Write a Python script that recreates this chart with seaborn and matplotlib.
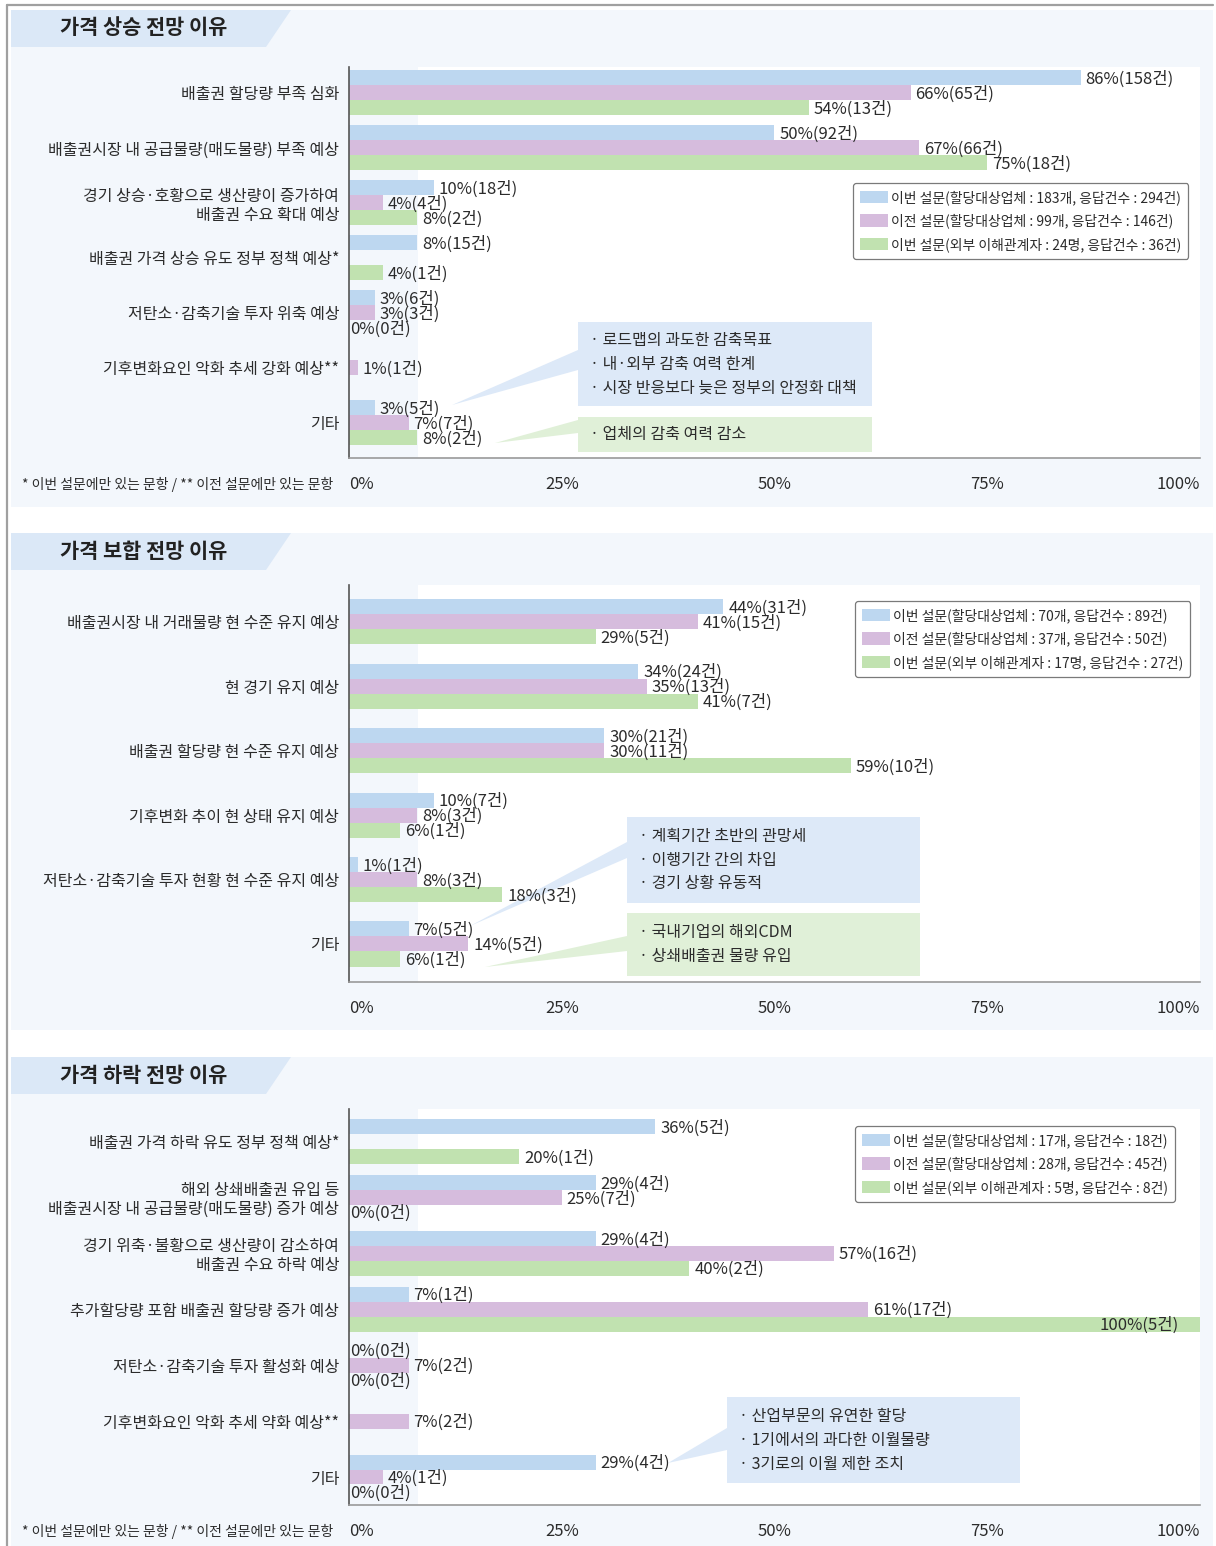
import matplotlib
matplotlib.use("Agg")
import matplotlib.pyplot as plt
from matplotlib.patches import Rectangle, Polygon, Patch
import pandas as pd
import seaborn as sns

W, H = 1216, 1546

SERIES = ["cur_firm", "prev_firm", "cur_ext"]
COLORS = ["#bdd7f0", "#d6bcdd", "#c1e2b0"]
PANEL_BG = "#f3f7fc"
HEADER_BG = "#dbe8f7"
CALLOUT_BLUE = "#dde9f8"
CALLOUT_GREEN = "#e0f0d8"
TEXT = "#2b2b2b"

# ---- 가격 상승 전망 이유 ----
up_reasons = [
    "배출권 할당량 부족 심화",
    "배출권시장 내 공급물량(매도물량) 부족 예상",
    "경기 상승·호황으로 생산량이 증가하여\n배출권 수요 확대 예상",
    "배출권 가격 상승 유도 정부 정책 예상*",
    "저탄소·감축기술 투자 위축 예상",
    "기후변화요인 악화 추세 강화 예상**",
    "기타",
]
up_cur = [86, 50, 10, 8, 3, None, 3]
up_cur_n = [158, 92, 18, 15, 6, None, 5]
up_prev = [66, 67, 4, None, 3, 1, 7]
up_prev_n = [65, 66, 4, None, 3, 1, 7]
up_ext = [54, 75, 8, 4, 0, None, 8]
up_ext_n = [13, 18, 2, 1, 0, None, 2]
up_legend = [
    "이번 설문(할당대상업체 : 183개, 응답건수 : 294건)",
    "이전 설문(할당대상업체 : 99개, 응답건수 : 146건)",
    "이번 설문(외부 이해관계자 : 24명, 응답건수 : 36건)",
]

# ---- 가격 보합 전망 이유 ----
flat_reasons = [
    "배출권시장 내 거래물량 현 수준 유지 예상",
    "현 경기 유지 예상",
    "배출권 할당량 현 수준 유지 예상",
    "기후변화 추이 현 상태 유지 예상",
    "저탄소·감축기술 투자 현황 현 수준 유지 예상",
    "기타",
]
flat_cur = [44, 34, 30, 10, 1, 7]
flat_cur_n = [31, 24, 21, 7, 1, 5]
flat_prev = [41, 35, 30, 8, 8, 14]
flat_prev_n = [15, 13, 11, 3, 3, 5]
flat_ext = [29, 41, 59, 6, 18, 6]
flat_ext_n = [5, 7, 10, 1, 3, 1]
flat_legend = [
    "이번 설문(할당대상업체 : 70개, 응답건수 : 89건)",
    "이전 설문(할당대상업체 : 37개, 응답건수 : 50건)",
    "이번 설문(외부 이해관계자 : 17명, 응답건수 : 27건)",
]

# ---- 가격 하락 전망 이유 ----
down_reasons = [
    "배출권 가격 하락 유도 정부 정책 예상*",
    "해외 상쇄배출권 유입 등\n배출권시장 내 공급물량(매도물량) 증가 예상",
    "경기 위축·불황으로 생산량이 감소하여\n배출권 수요 하락 예상",
    "추가할당량 포함 배출권 할당량 증가 예상",
    "저탄소·감축기술 투자 활성화 예상",
    "기후변화요인 악화 추세 약화 예상**",
    "기타",
]
down_cur = [36, 29, 29, 7, 0, None, 29]
down_cur_n = [5, 4, 4, 1, 0, None, 4]
down_prev = [None, 25, 57, 61, 7, 7, 4]
down_prev_n = [None, 7, 16, 17, 2, 2, 1]
down_ext = [20, 0, 40, 100, 0, None, 0]
down_ext_n = [1, 0, 2, 5, 0, None, 0]
down_legend = [
    "이번 설문(할당대상업체 : 17개, 응답건수 : 18건)",
    "이전 설문(할당대상업체 : 28개, 응답건수 : 45건)",
    "이번 설문(외부 이해관계자 : 5명, 응답건수 : 8건)",
]

titles = ["가격 상승 전망 이유", "가격 보합 전망 이유", "가격 하락 전망 이유"]
x_ticks = [0, 25, 50, 75, 100]
x_tick_labels = ["0%", "25%", "50%", "75%", "100%"]
footnote = "* 이번 설문에만 있는 문항 / ** 이전 설문에만 있는 문항"

sns.set_theme(style="white")
plt.rcParams["font.family"] = ["Noto Sans CJK KR", "DejaVu Sans"]

fig = plt.figure(figsize=(W / 100, H / 100), dpi=100)
fig.patch.set_facecolor("white")


def fx(px):
    return px / W


def fy(py):
    return 1 - py / H


def frect(x0, y0, x1, y1, color, z=-5, ax=None):
    r = Rectangle((fx(x0), fy(y1)), fx(x1) - fx(x0), fy(y0) - fy(y1),
                  transform=fig.transFigure, facecolor=color, edgecolor="none",
                  zorder=z, clip_on=False)
    if ax is None:
        fig.patches.append(r)
    else:
        ax.add_artist(r)


def fpoly(pts, color, z=5, ax=None):
    p = Polygon([(fx(a), fy(b)) for a, b in pts], closed=True,
                transform=fig.transFigure, facecolor=color, edgecolor="none",
                zorder=z, clip_on=False)
    if ax is None:
        fig.patches.append(p)
    else:
        ax.add_artist(p)


def ftext(x, y, s, **kw):
    kw.setdefault("color", TEXT)
    fig.text(fx(x), fy(y), s, **kw)


# page frame lines
fig.lines.append(plt.Line2D([fx(7), fx(1213)], [fy(5), fy(5)], transform=fig.transFigure,
                            color="#a0a0a0", lw=1.6))
fig.lines.append(plt.Line2D([fx(7), fx(7)], [fy(5), fy(1546)], transform=fig.transFigure,
                            color="#a0a0a0", lw=1.6))


def panel_frame(top, bottom, title):
    frect(11, top, 1213, bottom, PANEL_BG)
    fpoly([(11, top), (291, top), (266, top + 37), (11, top + 37)], HEADER_BG, z=-4)
    ftext(60, top + 18, title, fontsize=15, fontweight="bold", va="center", ha="left",
          color="#222222")


def draw_panel(box, reasons, vals, counts, legend_labels, width, ylim, legend_xy,
               note_y=None):
    left, top, right, bottom = box
    ax = fig.add_axes([fx(left), fy(bottom), fx(right) - fx(left), fy(top) - fy(bottom)])
    rows = []
    for s, series in enumerate(SERIES):
        for r, v in zip(reasons, vals[s]):
            if v is not None:
                rows.append({"reason": r, "series": series, "pct": v})
    df = pd.DataFrame(rows)
    sns.barplot(data=df, x="pct", y="reason", hue="series", order=reasons,
                hue_order=SERIES, palette=COLORS, orient="h", width=width,
                errorbar=None, saturation=1, legend=False, linewidth=0, ax=ax)
    ax.set_facecolor("white")
    ax.axvspan(0, 8.1, color=PANEL_BG, zorder=0, lw=0)
    ax.set_xlim(0, 100)
    ax.set_ylim(*ylim)
    ax.set_xlabel("")
    ax.set_ylabel("")
    for sp in ("top", "right"):
        ax.spines[sp].set_visible(False)
    ax.spines["left"].set_color("#555555")
    ax.spines["left"].set_linewidth(1.2)
    ax.spines["bottom"].set_color("#9a9a9a")
    ax.spines["bottom"].set_linewidth(1.2)
    ax.set_xticks(x_ticks)
    ax.set_xticklabels(x_tick_labels)
    ax.tick_params(axis="x", length=0, pad=13, labelsize=12, labelcolor=TEXT)
    ax.tick_params(axis="y", length=0, pad=7, labelsize=11.5, labelcolor=TEXT)
    tl = ax.get_xticklabels()
    tl[0].set_ha("left")
    tl[-1].set_ha("right")
    for t in ax.get_yticklabels():
        t.set_linespacing(1.15)

    bar_h = width / 3
    for s in range(3):
        off = (s - 1) * bar_h
        for i, (v, n) in enumerate(zip(vals[s], counts[s])):
            if v is None:
                continue
            label = f"{v}%({n}건)"
            if v >= 95:
                ax.annotate(label, (v, i + off), xytext=(-15, -1), textcoords="offset points",
                            ha="right", va="center", fontsize=12, color=TEXT, zorder=8)
            else:
                ax.annotate(label, (v, i + off), xytext=(3.5 if v > 0 else 1, -1),
                            textcoords="offset points", ha="left", va="center",
                            fontsize=12, color=TEXT, zorder=8)

    handles = [Patch(facecolor=c, edgecolor="none") for c in COLORS]
    leg = ax.legend(handles, legend_labels, loc="upper left",
                    bbox_to_anchor=(fx(legend_xy[0]), fy(legend_xy[1])),
                    bbox_transform=fig.transFigure, fontsize=10, frameon=True,
                    fancybox=True, framealpha=1, edgecolor="#7a7a7a",
                    handlelength=2.0, handleheight=1.0, handletextpad=0.25,
                    labelspacing=0.62, borderpad=0.5, borderaxespad=0)
    leg.get_frame().set_linewidth(0.9)
    leg.set_zorder(9)
    for t in leg.get_texts():
        t.set_color(TEXT)

    if note_y is not None:
        ftext(22, note_y, footnote, fontsize=10, va="center", ha="left")
    return ax


def callout(ax, x0, y0, x1, y1, color, lines, wedge, line_gap=24):
    frect(x0, y0, x1, y1, color, z=4, ax=ax)
    fpoly(wedge, color, z=4, ax=ax)
    n = len(lines)
    mid = (y0 + y1) / 2
    for k, s in enumerate(lines):
        ftext(x0 + 12, mid + (k - (n - 1) / 2) * line_gap, s, fontsize=11.5,
              va="center", ha="left", zorder=6)


# panel 1
panel_frame(10, 507, titles[0])
ax1 = draw_panel((349, 67, 1200, 458), up_reasons, [up_cur, up_prev, up_ext],
                 [up_cur_n, up_prev_n, up_ext_n], up_legend, 0.82, (6.64, -0.47),
                 (853, 183), note_y=484)
callout(ax1, 578, 322, 872, 406, CALLOUT_BLUE,
        ["· 로드맵의 과도한 감축목표", "· 내·외부 감축 여력 한계", "· 시장 반응보다 늦은 정부의 안정화 대책"],
        [(578, 350), (578, 370), (452, 405)])
callout(ax1, 578, 417, 872, 452, CALLOUT_GREEN, ["· 업체의 감축 여력 감소"],
        [(578, 420), (578, 433), (495, 443)])

# panel 2
panel_frame(533, 1030, titles[1])
ax2 = draw_panel((349, 585, 1200, 982), flat_reasons, [flat_cur, flat_prev, flat_ext],
                 [flat_cur_n, flat_prev_n, flat_ext_n], flat_legend, 0.70, (5.59, -0.57),
                 (855, 601))
callout(ax2, 627, 817, 920, 903, CALLOUT_BLUE,
        ["· 계획기간 초반의 관망세", "· 이행기간 간의 차입", "· 경기 상황 유동적"],
        [(627, 842), (627, 858), (470, 926)])
callout(ax2, 627, 913, 920, 976, CALLOUT_GREEN,
        ["· 국내기업의 해외CDM", "· 상쇄배출권 물량 유입"],
        [(627, 936), (627, 951), (485, 967)])

# panel 3
panel_frame(1057, 1546, titles[2])
ax3 = draw_panel((349, 1109, 1200, 1505), down_reasons, [down_cur, down_prev, down_ext],
                 [down_cur_n, down_prev_n, down_ext_n], down_legend, 0.80, (6.5, -0.58),
                 (855, 1126), note_y=1531)
callout(ax3, 727, 1397, 1020, 1483, CALLOUT_BLUE,
        ["· 산업부문의 유연한 할당", "· 1기에서의 과다한 이월물량", "· 3기로의 이월 제한 조치"],
        [(727, 1428), (727, 1450), (668, 1463)])

fig.savefig("out.png", dpi=100, facecolor="white")
